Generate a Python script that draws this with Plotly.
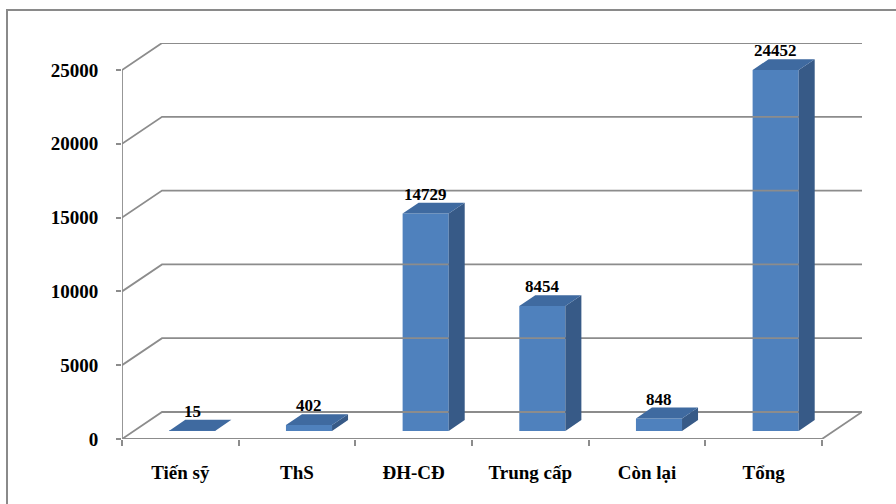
import plotly.graph_objects as go

# Data
categories = ["Tiến sỹ", "ThS", "ĐH-CĐ", "Trung cấp", "Còn lại", "Tổng"]
values = [15, 402, 14729, 8454, 848, 24452]
y_ticks = [0, 5000, 10000, 15000, 20000, 25000]

# Oblique projection of the 3-D box (depth vector in axis units)
DEPTH_X = 0.343      # category units
DEPTH_Y = 1830       # value units
BAR_FRONT = 0.3      # fraction of depth where bar front sits
BAR_DEPTH = 0.4      # fraction of depth the bar occupies
BAR_WIDTH = 0.395    # fraction of category width
Y_MAX = y_ticks[-1]
n = len(categories)

GRID = "#8c8c8c"
FRONT = "#4f81bd"
SIDE = "#375a87"
TOP = "#3f6aa0"
FONT = "Liberation Serif"

fig = go.Figure()

# Walls and floor: side-wall diagonals plus back-wall horizontals
gx, gy = [], []
for v in y_ticks:
    gx += [0, DEPTH_X, n + DEPTH_X, None]
    gy += [v, v + DEPTH_Y, v + DEPTH_Y, None]
# front floor edge, right floor edge and front value axis
gx += [0, n, n + DEPTH_X, None, 0, 0]
gy += [0, 0, DEPTH_Y, None, 0, Y_MAX]
fig.add_trace(go.Scatter(x=gx, y=gy, mode="lines",
                         line=dict(color=GRID, width=1.8),
                         hoverinfo="skip", showlegend=False))

# Bar geometry
fdx, fdy = BAR_FRONT * DEPTH_X, BAR_FRONT * DEPTH_Y
bdx, bdy = BAR_DEPTH * DEPTH_X, BAR_DEPTH * DEPTH_Y
centers = [i + 0.5 + fdx for i in range(n)]

# Front faces
fig.add_trace(go.Bar(x=centers, y=values, base=[fdy] * n, width=BAR_WIDTH,
                     marker=dict(color=FRONT, line=dict(width=0)),
                     hoverinfo="skip", showlegend=False))

# Side and top faces
sx, sy, tx, ty = [], [], [], []
for c, v in zip(centers, values):
    xl, xr = c - BAR_WIDTH / 2, c + BAR_WIDTH / 2
    top = fdy + v
    sx += [xr, xr + bdx, xr + bdx, xr, xr, None]
    sy += [fdy, fdy + bdy, top + bdy, top, fdy, None]
    tx += [xl, xr, xr + bdx, xl + bdx, xl, None]
    ty += [top, top, top + bdy, top + bdy, top, None]
fig.add_trace(go.Scatter(x=sx, y=sy, mode="lines", fill="toself",
                         fillcolor=SIDE, line=dict(width=0, color=SIDE),
                         hoverinfo="skip", showlegend=False))
fig.add_trace(go.Scatter(x=tx, y=ty, mode="lines", fill="toself",
                         fillcolor=TOP, line=dict(width=0, color=TOP),
                         hoverinfo="skip", showlegend=False))

# Value labels above each bar
for c, v in zip(centers, values):
    fig.add_annotation(x=c, y=v + fdy + bdy, text=f"<b>{v}</b>",
                       showarrow=False, yanchor="bottom", xanchor="center",
                       yshift=-3,
                       font=dict(family=FONT, size=17, color="black"))

# Outer chart border
fig.add_shape(type="rect", xref="paper", yref="paper",
              x0=(7 - 122) / 740, x1=(900 - 122) / 740,
              y0=(439 - 508) / 396, y1=(439 - 10) / 396,
              line=dict(color="#8a8a8a", width=2), fillcolor="rgba(0,0,0,0)")

fig.update_layout(
    width=896, height=504,
    margin=dict(l=122, r=34, t=43, b=65),
    paper_bgcolor="white", plot_bgcolor="white",
    font=dict(family=FONT, color="black"),
    xaxis=dict(range=[0, n + DEPTH_X], showgrid=False, zeroline=False,
               showline=False, tickmode="array",
               tickvals=[i + 0.5 for i in range(n)],
               ticktext=[f"<b>{c}</b>" for c in categories],
               ticks="", ticklabelstandoff=20,
               tickfont=dict(family=FONT, size=19, color="black"),
               minor=dict(tickmode="array", tickvals=list(range(n + 1)),
                          ticks="outside", ticklen=6, tickwidth=2,
                          tickcolor=GRID, showgrid=False)),
    yaxis=dict(range=[0, Y_MAX + DEPTH_Y], showgrid=False, zeroline=False,
               showline=False, tickmode="array", tickvals=y_ticks,
               ticktext=[f"<b>{t}</b>" for t in y_ticks],
               ticks="outside", ticklen=5, tickwidth=2, tickcolor=GRID,
               ticklabelstandoff=14,
               tickfont=dict(family=FONT, size=19, color="black")),
)

fig.write_html("out.html")
